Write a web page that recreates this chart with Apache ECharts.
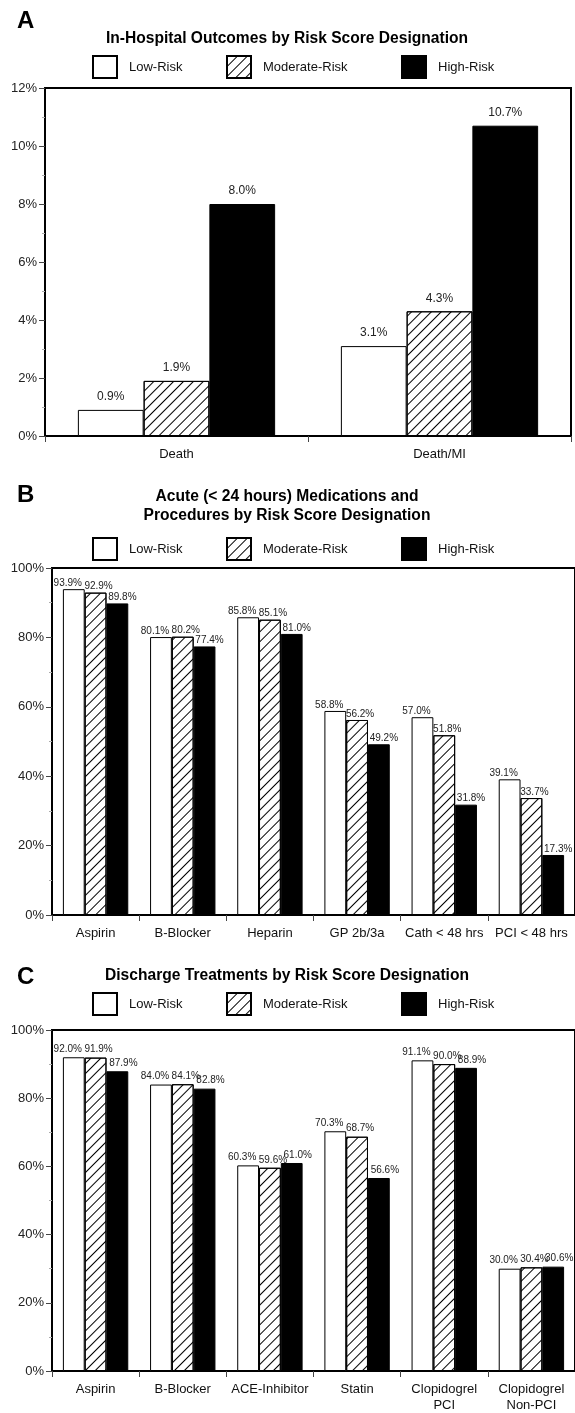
<!DOCTYPE html>
<html>
<head>
<meta charset="utf-8">
<script src="https://cdn.jsdelivr.net/npm/echarts@6/dist/echarts.min.js"></script>
<style>
html,body{margin:0;padding:0;background:#fff;}
#chart{width:575px;height:1413px;}
</style>
</head>
<body>
<div id="chart"></div>
<script>
// ---- Data ----
const seriesNames = ['Low-Risk', 'Moderate-Risk', 'High-Risk'];

const catsA = ['Death', 'Death/MI'];
const lowA = [0.9, 3.1];
const modA = [1.9, 4.3];
const highA = [8.0, 10.7];
const ticksA = [0, 2, 4, 6, 8, 10, 12];

const catsB = ['Aspirin', 'B-Blocker', 'Heparin', 'GP 2b/3a', 'Cath < 48 hrs', 'PCI < 48 hrs'];
const lowB = [93.9, 80.1, 85.8, 58.8, 57.0, 39.1];
const modB = [92.9, 80.2, 85.1, 56.2, 51.8, 33.7];
const highB = [89.8, 77.4, 81.0, 49.2, 31.8, 17.3];

const catsC = ['Aspirin', 'B-Blocker', 'ACE-Inhibitor', 'Statin', 'Clopidogrel\nPCI', 'Clopidogrel\nNon-PCI'];
const lowC = [92.0, 84.0, 60.3, 70.3, 91.1, 30.0];
const modC = [91.9, 84.1, 59.6, 68.7, 90.0, 30.4];
const highC = [87.9, 82.8, 61.0, 56.6, 88.9, 30.6];
const ticksBC = [0, 20, 40, 60, 80, 100];

const titles = {
  A: 'In-Hospital Outcomes by Risk Score Designation',
  B: 'Acute (< 24 hours) Medications and\nProcedures by Risk Score Designation',
  C: 'Discharge Treatments by Risk Score Designation'
};

// ---- Styles ----
const FONT = 'Liberation Sans, Arial, Helvetica, sans-serif';
const hatch = {
  symbol: 'rect', symbolSize: 1, color: '#000',
  dashArrayX: [1, 0], dashArrayY: [1, 6], rotation: -Math.PI / 4
};
const styles = [
  { color: '#fff', borderColor: '#000', borderWidth: 1 },
  { color: '#fff', borderColor: '#000', borderWidth: 1, decal: hatch },
  { color: '#000', borderColor: '#000', borderWidth: 1 }
];

const grids = [
  { left: 45, top: 88, width: 526, height: 348 },
  { left: 52, top: 568, width: 525, height: 347 },
  { left: 52, top: 1030, width: 525, height: 345 }
];

function yAx(idx, max, interval) {
  return {
    type: 'value', gridIndex: idx, min: 0, max: max, interval: interval,
    axisLine: { show: true, lineStyle: { color: '#000', width: 2 } },
    axisTick: { show: true, length: 6, lineStyle: { color: '#444', width: 1 } },
    minorTick: { show: true, splitNumber: 2, length: 3, lineStyle: { color: '#aaa' } },
    splitLine: { show: false },
    axisLabel: { formatter: '{value}%', fontSize: 13, color: '#222', fontFamily: FONT, margin: 8 }
  };
}
function xAx(idx, cats, fs, margin) {
  return {
    type: 'category', gridIndex: idx, data: cats,
    axisLine: { show: true, lineStyle: { color: '#000', width: 2 } },
    axisTick: { show: true, length: 6, lineStyle: { color: '#444' } },
    axisLabel: { fontSize: fs, color: '#111', fontFamily: FONT, margin: margin, lineHeight: 16, interval: 0 }
  };
}

function mkSeries(idx, arrs, labelSize, labelDist, offsets) {
  return arrs.map((d, i) => ({
    name: seriesNames[i], type: 'bar', xAxisIndex: idx, yAxisIndex: idx,
    data: d, barGap: 0, barCategoryGap: '25%',
    itemStyle: styles[i],
    label: {
      show: true, position: 'top', distance: labelDist,
      offset: [offsets[i], 0],
      formatter: p => p.value.toFixed(1) + '%',
      fontSize: labelSize, color: '#222', fontFamily: FONT
    }
  }));
}

function legends(top) {
  const xs = [92, 226, 401];
  return seriesNames.map((n, i) => ({
    data: [n], left: xs[i], top: top, icon: 'rect', padding: 0,
    itemWidth: 24, itemHeight: 22, itemGap: 10,
    selectedMode: false,
    textStyle: { fontSize: 13, color: '#111', fontFamily: FONT, padding: [0, 0, 0, 7] }
  }));
}

const TS = { fontSize: 15.6, fontWeight: 'bold', fontFamily: FONT, color: '#000' };
const LS = { fontSize: 24, fontWeight: 'bold', fontFamily: FONT, color: '#000' };

const option = {
  animation: false,
  backgroundColor: '#fff',
  title: [
    { text: 'A', left: 12, top: 4, textStyle: LS },
    { text: titles.A, left: 282, top: 26, textAlign: 'center', textStyle: TS },
    { text: 'B', left: 12, top: 478, textStyle: LS },
    { text: titles.B, left: 282, top: 482, textAlign: 'center', textStyle: Object.assign({ lineHeight: 19 }, TS) },
    { text: 'C', left: 12, top: 960, textStyle: LS },
    { text: titles.C, left: 282, top: 963, textAlign: 'center', textStyle: TS }
  ],
  legend: [].concat(legends(55), legends(537), legends(992)),
  grid: grids.map(g => Object.assign({ show: true, borderColor: '#000', borderWidth: 2, backgroundColor: 'transparent' }, g)),
  xAxis: [xAx(0, catsA, 13, 10), xAx(1, catsB, 13, 10), xAx(2, catsC, 13, 10)],
  yAxis: [yAx(0, 12, 2), yAx(1, 100, 20), yAx(2, 100, 20)],
  series: [].concat(
    mkSeries(0, [lowA, modA, highA], 12, 7, [0, 0, 0]),
    mkSeries(1, [lowB, modB, highB], 10, 1, [-6, 3, 5]),
    mkSeries(2, [lowC, modC, highC], 10, 3, [-6, 3, 6])
  )
};

const chart = echarts.init(document.getElementById('chart'), null, { renderer: 'canvas' });
chart.setOption(option);
</script>
</body>
</html>
